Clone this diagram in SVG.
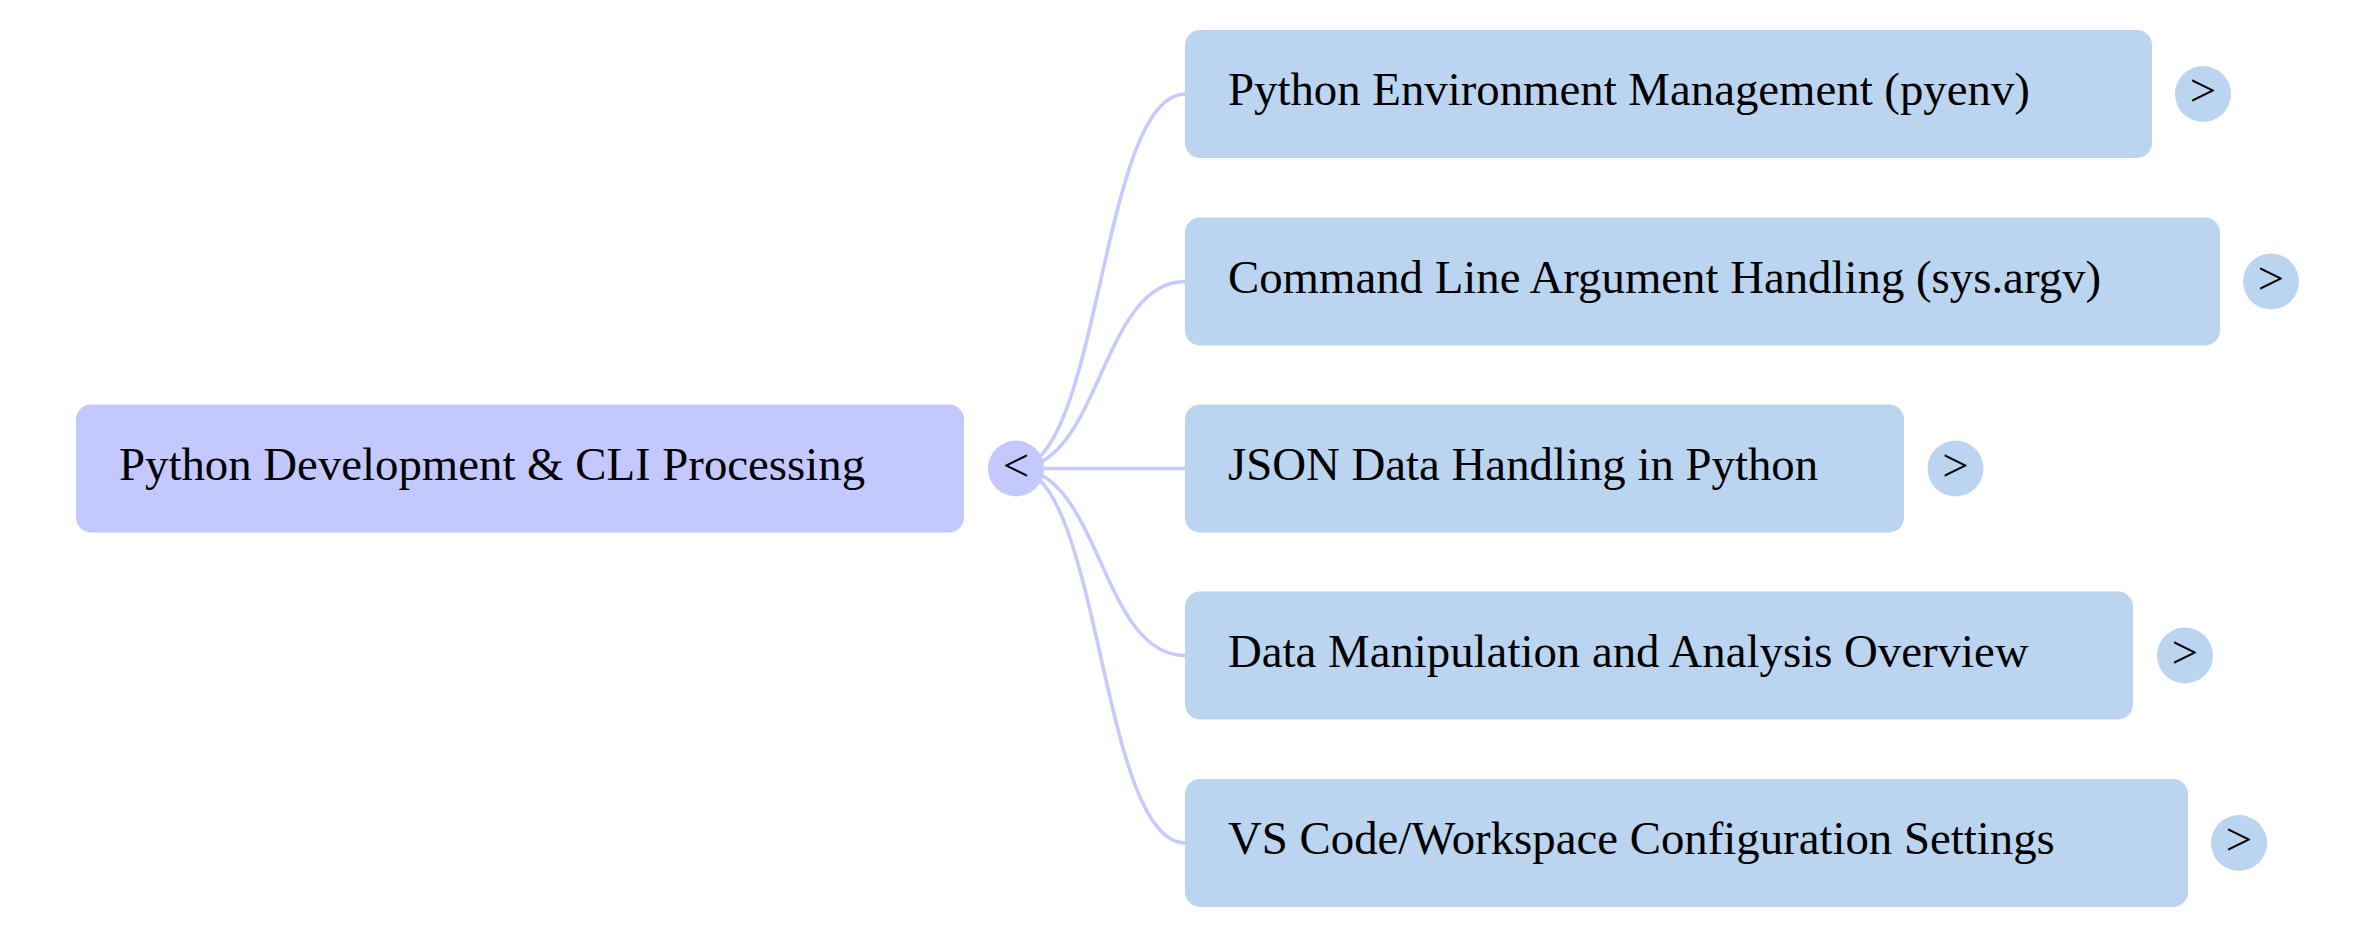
<svg xmlns="http://www.w3.org/2000/svg" width="2375" height="937" viewBox="0 0 2375 937">
<style>
.root{fill:#c3c9fe}
.child{fill:#bbd4ef}
.lbl{font-family:"Liberation Serif","Times New Roman",serif;font-size:46.8px;fill:#000}
.btn{font-family:"Liberation Serif","Times New Roman",serif;font-size:46.8px;fill:#000;text-anchor:middle}
.link{fill:none;stroke:#c5caff;stroke-width:3.5}
</style>
<rect width="2375" height="937" fill="#ffffff"/>
<g id="connectors">
<path class="link" d="M1016 468.5 C1100.5 468.5 1100.5 94 1185 94"/>
<path class="link" d="M1016 468.5 C1100.5 468.5 1100.5 281.5 1185 281.5"/>
<path class="link" d="M1016 468.5 L1185 468.5"/>
<path class="link" d="M1016 468.5 C1100.5 468.5 1100.5 655.5 1185 655.5"/>
<path class="link" d="M1016 468.5 C1100.5 468.5 1100.5 843 1185 843"/>
</g>
<g id="root">
<rect class="root" x="76" y="404.5" width="888" height="128" rx="15"/>
<text class="lbl" x="119" y="479.5">Python Development &amp; CLI Processing</text>
<circle class="root" cx="1016" cy="468.5" r="28"/>
<text class="btn" x="1016" y="481">&lt;</text>
</g>
<g id="node1">
<rect class="child" x="1185" y="30" width="967" height="128" rx="15"/>
<text class="lbl" x="1228" y="105">Python Environment Management (pyenv)</text>
<circle class="child" cx="2203" cy="94" r="28"/>
<text class="btn" x="2203" y="106">&gt;</text>
</g>
<g id="node2">
<rect class="child" x="1185" y="217.5" width="1035" height="128" rx="15"/>
<text class="lbl" x="1228" y="292.5">Command Line Argument Handling (sys.argv)</text>
<circle class="child" cx="2271" cy="281.5" r="28"/>
<text class="btn" x="2271" y="293.5">&gt;</text>
</g>
<g id="node3">
<rect class="child" x="1185" y="404.5" width="719" height="128" rx="15"/>
<text class="lbl" x="1228" y="479.5">JSON Data Handling in Python</text>
<circle class="child" cx="1955.5" cy="468.5" r="28"/>
<text class="btn" x="1955.5" y="480.5">&gt;</text>
</g>
<g id="node4">
<rect class="child" x="1185" y="591.5" width="948" height="128" rx="15"/>
<text class="lbl" x="1228" y="666.5">Data Manipulation and Analysis Overview</text>
<circle class="child" cx="2185" cy="655.5" r="28"/>
<text class="btn" x="2185" y="667.5">&gt;</text>
</g>
<g id="node5">
<rect class="child" x="1185" y="779" width="1003" height="128" rx="15"/>
<text class="lbl" x="1228" y="854">VS Code/Workspace Configuration Settings</text>
<circle class="child" cx="2239" cy="843" r="28"/>
<text class="btn" x="2239" y="855">&gt;</text>
</g>
</svg>
